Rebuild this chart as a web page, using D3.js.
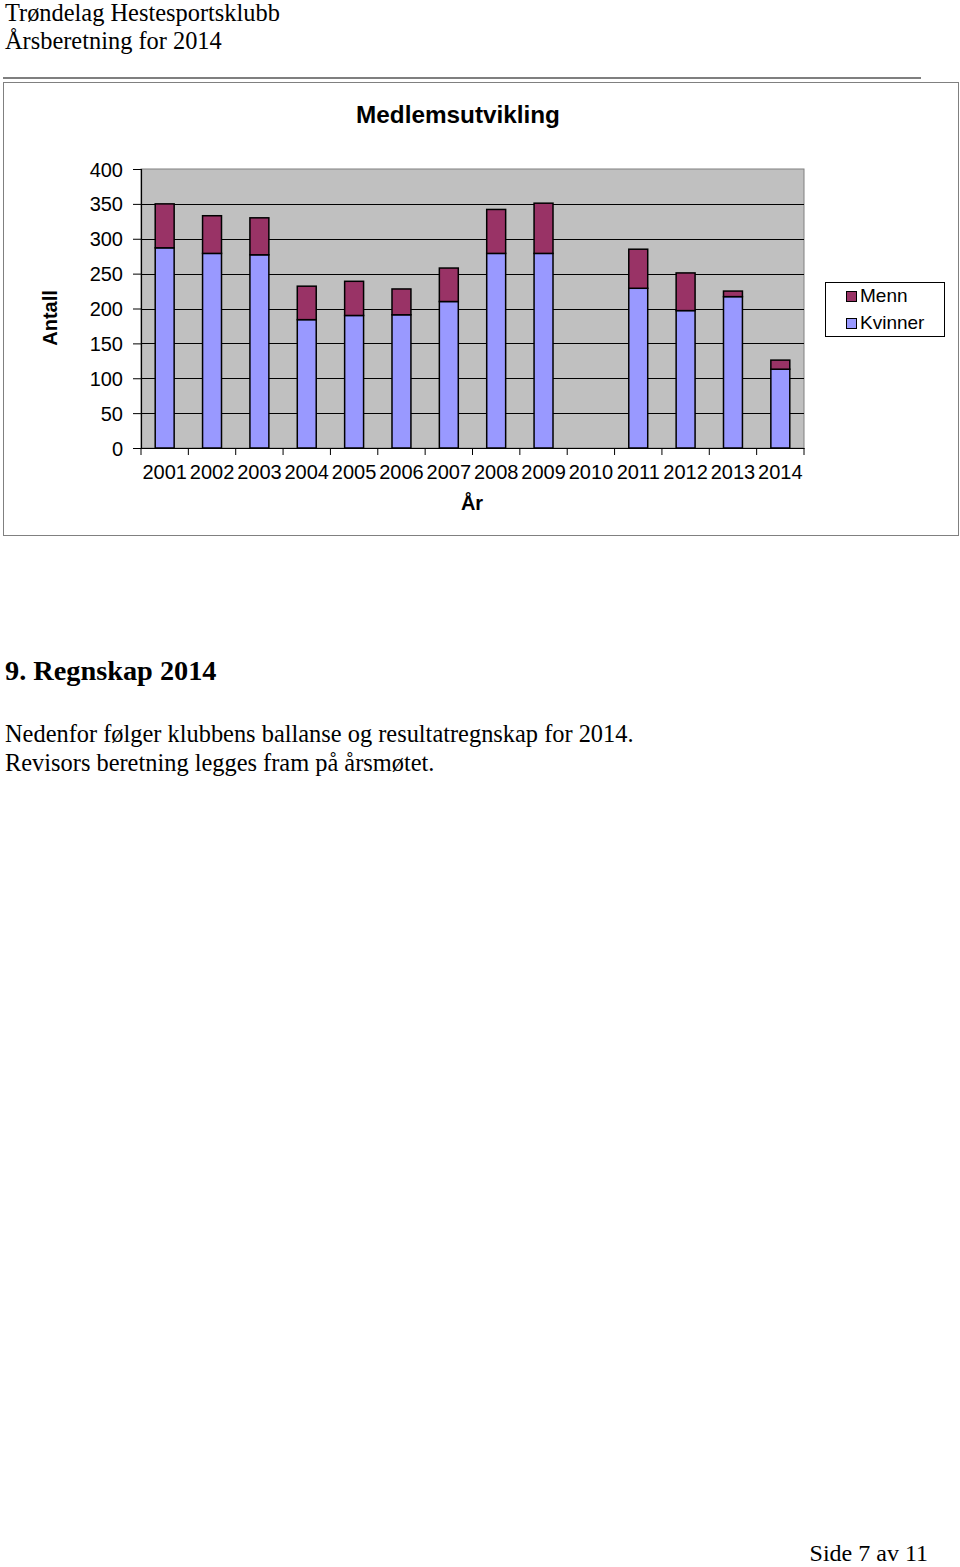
<!DOCTYPE html>
<html>
<head>
<meta charset="utf-8">
<script src="https://cdn.jsdelivr.net/npm/d3@7"></script>
<style>
  html, body { margin: 0; padding: 0; background: #fff; }
  svg { display: block; }
</style>
</head>
<body>
<svg id="page" width="960" height="1567"></svg>
<script>
// ---- data ----
const years = ["2001","2002","2003","2004","2005","2006","2007","2008","2009","2010","2011","2012","2013","2014"];
const kvinner = [287, 279, 277, 184, 190, 191, 210, 279, 279, 0, 229, 197, 217, 113];
const menn    = [ 63,  54,  53,  48,  49,  37,  48,  63,  72, 0,  56,  54,   8,  13];
const yTicks = [0, 50, 100, 150, 200, 250, 300, 350, 400];
const seriesNames = ["Kvinner", "Menn"];
const seriesColors = ["#9999FF", "#993366"];

const svg = d3.select("#page");
const serif = "'Liberation Serif', 'Times New Roman', serif";
const sans = "'Liberation Sans', Arial, sans-serif";

// ---- page header ----
svg.append("text").attr("x", 5).attr("y", 21).attr("font-family", serif).attr("font-size", 24.4)
  .text("Trøndelag Hestesportsklubb");
svg.append("text").attr("x", 5).attr("y", 49).attr("font-family", serif).attr("font-size", 24.4)
  .text("Årsberetning for 2014");
svg.append("line").attr("x1", 3).attr("x2", 921).attr("y1", 78).attr("y2", 78)
  .attr("stroke", "#000").attr("stroke-width", 1.2);

// ---- chart frame ----
svg.append("rect").attr("x", 3.5).attr("y", 82.5).attr("width", 955).attr("height", 453)
  .attr("fill", "#fff").attr("stroke", "#808080").attr("stroke-width", 1);

const plot = { left: 141, right: 804, top: 169, bottom: 448 };

const x = d3.scaleBand().domain(years).range([plot.left, plot.right]).paddingInner(0).paddingOuter(0);
const y = d3.scaleLinear().domain([0, 400]).range([plot.bottom, plot.top]);

// plot background
svg.append("rect").attr("x", plot.left).attr("y", plot.top)
  .attr("width", plot.right - plot.left).attr("height", plot.bottom - plot.top)
  .attr("fill", "#C0C0C0").attr("stroke", "#808080").attr("stroke-width", 1);

// gridlines
svg.append("g").selectAll("line").data(yTicks.filter(d => d > 0 && d < 400)).join("line")
  .attr("x1", plot.left).attr("x2", plot.right)
  .attr("y1", d => Math.round(y(d)) + 0.5).attr("y2", d => Math.round(y(d)) + 0.5)
  .attr("stroke", "#000").attr("stroke-width", 1);

// stacked bars
const rows = years.map((yr, i) => ({ year: yr, Kvinner: kvinner[i], Menn: menn[i] }));
const stack = d3.stack().keys(seriesNames)(rows);
const barW = x.bandwidth() * 0.4;
svg.append("g").selectAll("g").data(stack).join("g")
  .attr("fill", (d, i) => seriesColors[i])
  .selectAll("rect").data(d => d.filter(p => p[1] - p[0] > 0)).join("rect")
  .attr("x", d => x(d.data.year) + (x.bandwidth() - barW) / 2)
  .attr("width", barW)
  .attr("y", d => y(d[1]))
  .attr("height", d => y(d[0]) - y(d[1]))
  .attr("stroke", "#000").attr("stroke-width", 1.5);

// y axis
const yAxis = d3.axisLeft(y).tickValues(yTicks).tickSize(8).tickPadding(10);
const gy = svg.append("g").attr("transform", `translate(${plot.left},0)`).call(yAxis);
gy.select(".domain").attr("stroke", "#000").attr("stroke-width", 1.2);
gy.selectAll(".tick line").attr("stroke", "#000");
gy.selectAll(".tick text").attr("font-family", sans).attr("font-size", 20).attr("fill", "#000").attr("dy", "0.35em");

// x axis
const gx = svg.append("g").attr("transform", `translate(0,${plot.bottom})`)
  .call(d3.axisBottom(x).tickSize(0).tickPadding(17));
gx.select(".domain").attr("stroke", "#000").attr("stroke-width", 1.2);
gx.selectAll(".tick text").attr("font-family", sans).attr("font-size", 20).attr("fill", "#000");
// category boundary ticks
const bounds = years.map(d => x(d)).concat([plot.right]);
svg.append("g").selectAll("line").data(bounds).join("line")
  .attr("x1", d => d).attr("x2", d => d)
  .attr("y1", plot.bottom).attr("y2", plot.bottom + 7)
  .attr("stroke", "#000").attr("stroke-width", 1);

// titles
svg.append("text").attr("x", 458).attr("y", 123).attr("text-anchor", "middle")
  .attr("font-family", sans).attr("font-weight", "bold").attr("font-size", 24.3)
  .text("Medlemsutvikling");
svg.append("text").attr("x", 472).attr("y", 510).attr("text-anchor", "middle")
  .attr("font-family", sans).attr("font-weight", "bold").attr("font-size", 20)
  .text("År");
svg.append("text").attr("transform", "translate(57,318) rotate(-90)").attr("text-anchor", "middle")
  .attr("font-family", sans).attr("font-weight", "bold").attr("font-size", 20)
  .text("Antall");

// legend
const lg = svg.append("g");
lg.append("rect").attr("x", 825.5).attr("y", 282.5).attr("width", 119).attr("height", 54)
  .attr("fill", "#fff").attr("stroke", "#000").attr("stroke-width", 1);
const legendItems = [{ name: "Menn", color: seriesColors[1] }, { name: "Kvinner", color: seriesColors[0] }];
const li = lg.selectAll("g.item").data(legendItems).join("g").attr("class", "item")
  .attr("transform", (d, i) => `translate(0,${i * 27})`);
li.append("rect").attr("x", 846.5).attr("y", 291.5).attr("width", 10).attr("height", 10)
  .attr("fill", d => d.color).attr("stroke", "#000").attr("stroke-width", 1);
li.append("text").attr("x", 860).attr("y", 302).attr("font-family", sans).attr("font-size", 19)
  .text(d => d.name);

// ---- section text ----
svg.append("text").attr("x", 5).attr("y", 680).attr("font-family", serif).attr("font-weight", "bold").attr("font-size", 28.3)
  .text("9. Regnskap 2014");
svg.append("text").attr("x", 5).attr("y", 742).attr("font-family", serif).attr("font-size", 24.4)
  .text("Nedenfor følger klubbens ballanse og resultatregnskap for 2014.");
svg.append("text").attr("x", 5).attr("y", 771).attr("font-family", serif).attr("font-size", 24.4)
  .text("Revisors beretning legges fram på årsmøtet.");
svg.append("text").attr("x", 928).attr("y", 1561).attr("text-anchor", "end").attr("font-family", serif).attr("font-size", 24)
  .text("Side 7 av 11");
</script>
</body>
</html>
